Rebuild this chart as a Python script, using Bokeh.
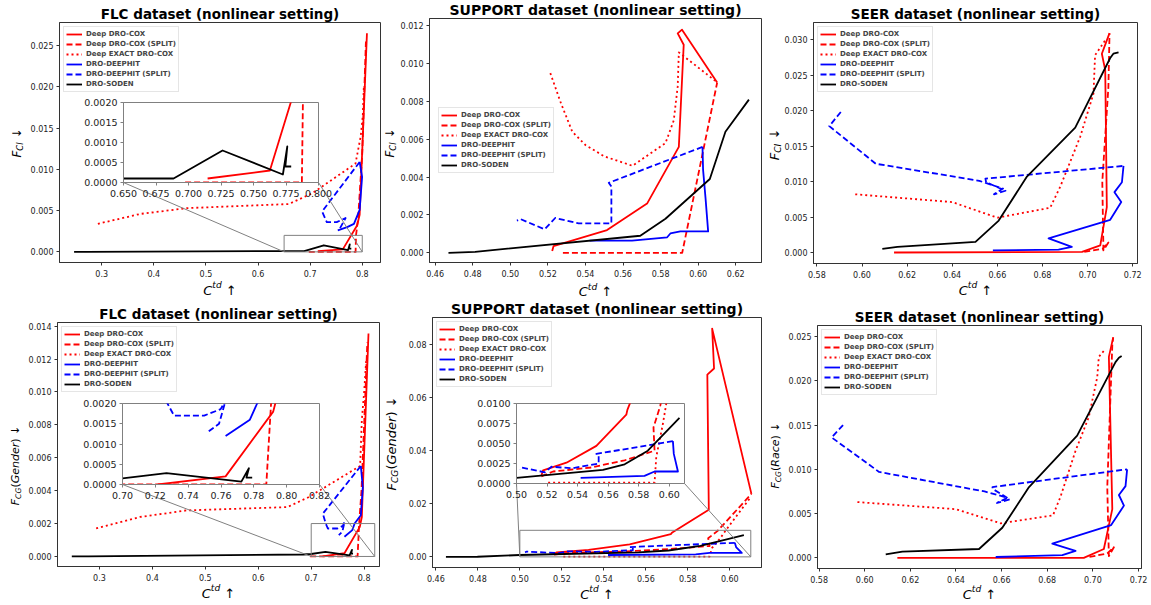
import numpy as np
from bokeh.plotting import figure
from bokeh.models import (Range1d, FixedTicker, PrintfTickFormatter, Legend,
                          LegendItem, GridBox)
from bokeh.core.properties import value
from bokeh.embed import file_html
from bokeh.resources import INLINE

# ---------------------------------------------------------------- series
NAMES = ["Deep DRO-COX", "Deep DRO-COX (SPLIT)", "Deep EXACT DRO-COX",
         "DRO-DEEPHIT", "DRO-DEEPHIT (SPLIT)", "DRO-SODEN"]

# ---- FLC, F_CI
FLC_CI_COX_X = [0.7147, 0.7626, 0.790, 0.795, 0.809]
FLC_CI_COX_Y = [0.0001, 0.0003, 0.0032, 0.0045, 0.0265]
FLC_CI_SPLIT_X = [0.6974, 0.7872, 0.788, 0.792, 0.800, 0.807]
FLC_CI_SPLIT_Y = [0.0, 0.0, 0.002, 0.004, 0.012, 0.0255]
FLC_CI_EXACT_X = [0.2926, 0.374, 0.4635, 0.659, 0.704, 0.787, 0.797, 0.801, 0.803]
FLC_CI_EXACT_Y = [0.0034, 0.0046, 0.0053, 0.0058, 0.0071, 0.0107, 0.0140, 0.0165, 0.0200]
FLC_CI_DH_X = [0.753, 0.771, 0.784, 0.795, 0.7997, 0.795]
FLC_CI_DH_Y = [0.0026, 0.0030, 0.0034, 0.0051, 0.0091, 0.0109]
FLC_CI_DHS_X = [0.795, 0.723, 0.732, 0.751, 0.768, 0.755]
FLC_CI_DHS_Y = [0.0109, 0.0049, 0.0036, 0.0036, 0.0041, 0.0026]
FLC_CI_SODEN_X = [0.247, 0.27, 0.65, 0.6885, 0.7262, 0.7726, 0.776, 0.7745, 0.779]
FLC_CI_SODEN_Y = [0.0, 0.0, 0.0001, 0.0001, 0.0008, 0.0002, 0.0009, 0.0004, 0.0004]

# ---- SUPPORT, F_CI
SUP_CI_COX_X = [0.5223, 0.523, 0.5515, 0.5728, 0.5897, 0.5923, 0.5891, 0.5914, 0.6101]
SUP_CI_COX_Y = [0.0001, 0.00035, 0.0012, 0.0026, 0.0056, 0.0110, 0.0116, 0.0118, 0.0090]
SUP_CI_SPLIT_X = [0.528, 0.5915, 0.6101]
SUP_CI_SPLIT_Y = [0.0, 0.0, 0.0090]
SUP_CI_EXACT_X = [0.5213, 0.527, 0.533, 0.540, 0.550, 0.565, 0.5826, 0.587, 0.5891, 0.5897, 0.609]
SUP_CI_EXACT_Y = [0.0095, 0.0079, 0.0064, 0.0057, 0.0051, 0.0046, 0.0058, 0.0070, 0.0088, 0.0106, 0.0091]
SUP_CI_DH_X = [0.5422, 0.5648, 0.5835, 0.5852, 0.5905, 0.6053, 0.6039, 0.6026, 0.6023]
SUP_CI_DH_Y = [0.00064, 0.00064, 0.00082, 0.00102, 0.00113, 0.00113, 0.0029, 0.0044, 0.0056]
SUP_CI_DHS_X = [0.6023, 0.5524, 0.5538, 0.5538, 0.5364, 0.5239, 0.5183, 0.5055, 0.5035]
SUP_CI_DHS_Y = [0.0056, 0.0037, 0.0035, 0.00155, 0.00155, 0.00184, 0.00124, 0.00178, 0.0017]
SUP_CI_SODEN_X = [0.4671, 0.4813, 0.5692, 0.5826, 0.6062, 0.6145, 0.627]
SUP_CI_SODEN_Y = [0.0, 0.00005, 0.0009, 0.0018, 0.0039, 0.0064, 0.0081]

# ---- SEER, F_CI
SEER_CI_COX_X = [0.6142, 0.6975, 0.7056, 0.7085, 0.7078, 0.7063, 0.7097]
SEER_CI_COX_Y = [0.0, 0.0001, 0.0010, 0.0064, 0.0257, 0.0280, 0.0309]
SEER_CI_SPLIT_X = [0.6985, 0.7065, 0.7092, 0.7070, 0.7065, 0.7092, 0.7097]
SEER_CI_SPLIT_Y = [0.0001, 0.0005, 0.0014, 0.0003, 0.0100, 0.0233, 0.0309]
SEER_CI_EXACT_X = [0.597, 0.640, 0.660, 0.6834, 0.6879, 0.6967, 0.7026, 0.7033, 0.7078]
SEER_CI_EXACT_Y = [0.0082, 0.0071, 0.0049, 0.0063, 0.0093, 0.0163, 0.0224, 0.0278, 0.0299]
SEER_CI_DH_X = [0.658, 0.6871, 0.693, 0.6827, 0.710, 0.7149, 0.7119, 0.7152, 0.7159]
SEER_CI_DH_Y = [0.0003, 0.0004, 0.0008, 0.0020, 0.0046, 0.0071, 0.0085, 0.0099, 0.0122]
SEER_CI_DHS_X = [0.5906, 0.5855, 0.6061, 0.6520, 0.6625, 0.6585, 0.6636, 0.6550, 0.6547, 0.7159]
SEER_CI_DHS_Y = [0.0198, 0.0178, 0.0125, 0.0101, 0.0090, 0.0082, 0.0087, 0.0099, 0.0104, 0.0122]
SEER_CI_SODEN_X = [0.609, 0.6157, 0.6503, 0.6606, 0.6731, 0.6945, 0.7100, 0.7114, 0.7137]
SEER_CI_SODEN_Y = [0.0005, 0.0008, 0.0015, 0.0045, 0.0107, 0.0176, 0.0274, 0.0280, 0.0282]

# ---- FLC, F_CG(Gender)
FLC_CG_COX_X = [0.7215, 0.7628, 0.7918, 0.7956, 0.8082]
FLC_CG_COX_Y = [0.0, 0.0002, 0.0018, 0.0024, 0.01355]
FLC_CG_SPLIT_X = [0.698, 0.7876, 0.7905, 0.795, 0.800, 0.806]
FLC_CG_SPLIT_Y = [0.0, 0.0, 0.002, 0.004, 0.008, 0.013]
FLC_CG_EXACT_X = [0.2937, 0.3768, 0.465, 0.6552, 0.6948, 0.7924, 0.7956, 0.800, 0.804]
FLC_CG_EXACT_Y = [0.0017, 0.0024, 0.0028, 0.0030, 0.0036, 0.0055, 0.0083, 0.0100, 0.0120]
FLC_CG_DH_X = [0.7628, 0.7776, 0.782, 0.7937, 0.7975, 0.7937]
FLC_CG_DH_Y = [0.0012, 0.0016, 0.0020, 0.0025, 0.0042, 0.0055]
FLC_CG_DHS_X = [0.7937, 0.7219, 0.7274, 0.7314, 0.7497, 0.7598, 0.763, 0.7588, 0.7521]
FLC_CG_DHS_Y = [0.0055, 0.0026, 0.0020, 0.0017, 0.0017, 0.00186, 0.0021, 0.0015, 0.0013]
FLC_CG_SODEN_X = [0.2477, 0.279, 0.685, 0.70, 0.7268, 0.7724, 0.777, 0.7755, 0.779]
FLC_CG_SODEN_Y = [0.0, 0.00001, 0.00012, 0.00015, 0.00028, 0.00007, 0.0004, 0.00017, 0.00017]

# ---- SUPPORT, F_CG(Gender)
SUP_CG_COX_X = [0.5163, 0.5174, 0.5327, 0.5523, 0.5719, 0.5726, 0.5900, 0.5893, 0.5925, 0.5916, 0.6103]
SUP_CG_COX_Y = [0.0010, 0.00165, 0.0026, 0.0047, 0.0086, 0.0092, 0.0177, 0.0686, 0.0709, 0.0859, 0.0237]
SUP_CG_SPLIT_X = [0.5163, 0.524, 0.549, 0.5708, 0.5904, 0.5897, 0.5941, 0.6103]
SUP_CG_SPLIT_Y = [0.0009, 0.0015, 0.0020, 0.0029, 0.0041, 0.0070, 0.0097, 0.0237]
SUP_CG_EXACT_X = [0.5207, 0.5904, 0.5915, 0.5958, 0.598, 0.6099]
SUP_CG_EXACT_Y = [0.0001, 0.0001, 0.0033, 0.0074, 0.0099, 0.0224]
SUP_CG_DH_X = [0.542, 0.5838, 0.5904, 0.6057, 0.603, 0.6024]
SUP_CG_DH_Y = [0.0007, 0.00095, 0.0015, 0.0015, 0.0037, 0.0053]
SUP_CG_DHS_X = [0.6024, 0.5523, 0.5538, 0.5538, 0.5364, 0.5229, 0.5185, 0.5033, 0.5025]
SUP_CG_DHS_Y = [0.0053, 0.0037, 0.0035, 0.0025, 0.0019, 0.0021, 0.0014, 0.0020, 0.0017]
SUP_CG_SODEN_X = [0.4648, 0.4798, 0.50, 0.5566, 0.5708, 0.586, 0.6067]
SUP_CG_SODEN_Y = [0.0, 0.00005, 0.0007, 0.0017, 0.0024, 0.0041, 0.0082]

# ---- SEER, F_CG(Race)
SEER_CG_COX_X = [0.6143, 0.696, 0.7048, 0.7085, 0.7070, 0.7089]
SEER_CG_COX_Y = [0.0, 0.0, 0.0010, 0.0055, 0.0227, 0.0249]
SEER_CG_SPLIT_X = [0.6985, 0.7063, 0.7092, 0.7070, 0.7063, 0.7085, 0.7089]
SEER_CG_SPLIT_Y = [0.0001, 0.0005, 0.0012, 0.0002, 0.0080, 0.0240, 0.0249]
SEER_CG_EXACT_X = [0.5968, 0.6399, 0.6596, 0.6825, 0.6858, 0.6924, 0.6982, 0.7019, 0.7026, 0.7055]
SEER_CG_EXACT_Y = [0.0063, 0.0055, 0.0039, 0.0048, 0.0069, 0.0121, 0.0159, 0.0204, 0.0227, 0.0236]
SEER_CG_DH_X = [0.6574, 0.6866, 0.6924, 0.6822, 0.7080, 0.7136, 0.7114, 0.7143, 0.7150]
SEER_CG_DH_Y = [0.0001, 0.0003, 0.0008, 0.0016, 0.0037, 0.0059, 0.0071, 0.0081, 0.0100]
SEER_CG_DHS_X = [0.5905, 0.5855, 0.6063, 0.6525, 0.6625, 0.6580, 0.6636, 0.6560, 0.6560, 0.7150]
SEER_CG_DHS_Y = [0.0150, 0.0136, 0.0097, 0.0075, 0.0068, 0.0062, 0.0066, 0.0078, 0.0080, 0.0100]
SEER_CG_SODEN_X = [0.6092, 0.6165, 0.6501, 0.6603, 0.6720, 0.6931, 0.7099, 0.7114, 0.7126]
SEER_CG_SODEN_Y = [0.0004, 0.0007, 0.0010, 0.0034, 0.0080, 0.0138, 0.0221, 0.0226, 0.0228]

# ---------------------------------------------------------------- ticks
FLC_X_TICKS = [0.3, 0.4, 0.5, 0.6, 0.7, 0.8]
SUP_CI_X_TICKS = [0.46, 0.48, 0.50, 0.52, 0.54, 0.56, 0.58, 0.60, 0.62]
SUP_CG_X_TICKS = [0.46, 0.48, 0.50, 0.52, 0.54, 0.56, 0.58, 0.60]
SEER_X_TICKS = [0.58, 0.60, 0.62, 0.64, 0.66, 0.68, 0.70, 0.72]
FLC_CI_Y_TICKS = [0.0, 0.005, 0.010, 0.015, 0.020, 0.025]
SUP_CI_Y_TICKS = [0.0, 0.002, 0.004, 0.006, 0.008, 0.010, 0.012]
SEER_CI_Y_TICKS = [0.0, 0.005, 0.010, 0.015, 0.020, 0.025, 0.030]
FLC_CG_Y_TICKS = [0.0, 0.002, 0.004, 0.006, 0.008, 0.010, 0.012, 0.014]
SUP_CG_Y_TICKS = [0.0, 0.02, 0.04, 0.06, 0.08]
SEER_CG_Y_TICKS = [0.0, 0.005, 0.010, 0.015, 0.020, 0.025]

FLC_CI_INSET_X_TICKS = [0.65, 0.675, 0.70, 0.725, 0.75, 0.775, 0.80]
FLC_CI_INSET_Y_TICKS = [0.0, 0.0005, 0.0010, 0.0015, 0.0020]
FLC_CG_INSET_X_TICKS = [0.70, 0.72, 0.74, 0.76, 0.78, 0.80, 0.82]
FLC_CG_INSET_Y_TICKS = [0.0, 0.0005, 0.0010, 0.0015, 0.0020]
SUP_CG_INSET_X_TICKS = [0.50, 0.52, 0.54, 0.56, 0.58, 0.60]
SUP_CG_INSET_Y_TICKS = [0.0, 0.0025, 0.0050, 0.0075, 0.0100]

TITLES = ["FLC dataset (nonlinear setting)", "SUPPORT dataset (nonlinear setting)",
          "SEER dataset (nonlinear setting)", "FLC dataset (nonlinear setting)",
          "SUPPORT dataset (nonlinear setting)", "SEER dataset (nonlinear setting)"]

# ---------------------------------------------------------------- styles / layout
FONT = "DejaVu Sans"
COLORS = ["red", "red", "red", "blue", "blue", "black"]
DASHES = ["solid", "6 3", "2 3", "solid", "6 3", "solid"]
LW = 1.8
FRAME_COLOR = "#333333"
INSET_COLOR = "#808080"
TICK_LABEL_COLOR = "#222222"
OVERLAY_BOX = (2, 1, 1149, 604)   # x, y, w, h in page pixels (unique grid lines)
BASELINE_FIX = 0.3                # em; the renderer sits text this much below the anchor

EM = {"F": 0.575, "C": 0.698, "I": 0.295, "G": 0.775, "R": 0.695, "t": 0.392,
      "d": 0.635, "e": 0.615, "n": 0.634, "r": 0.411, "a": 0.613, "c": 0.550,
      "(": 0.390, ")": 0.390, " ": 0.318, "↓": 0.838, "↑": 0.838}


def text_w(s, size):
    return sum(EM.get(ch, 0.6) for ch in s) * size


def ylabel_pieces(kind, s):
    out = [("F", s, "italic", 0.0)]
    if kind == "CI":
        out.append(("CI", 0.7 * s, "italic", -0.18 * s))
    else:
        out.append(("CG", 0.7 * s, "italic", -0.18 * s))
        out += [("(", s, "normal", 0.0), (kind, s, "italic", 0.0), (")", s, "normal", 0.0)]
    out += [(" ", s, "normal", 0.0), ("↓", s, "normal", 0.0)]
    return out


def xlabel_pieces(s):
    return [("C", s, "italic", 0.0), ("td", 0.7 * s, "italic", 0.45 * s),
            (" ", s, "normal", 0.0), ("↑", s, "normal", 0.0)]


TEXTS = []  # (x, y, text, size, style, angle, align) in page pixels


def place_pieces(pieces, center, base, vertical):
    total = sum(text_w(t, sz) for t, sz, _, _ in pieces)
    pos = 0.0
    for t, sz, style, raise_ in pieces:
        if t.strip():
            r = raise_ + BASELINE_FIX * sz
            if vertical:
                TEXTS.append((base - r, center + total / 2.0 - pos, t, sz, style, np.pi / 2, "left"))
            else:
                TEXTS.append((center - total / 2.0 + pos, base - r, t, sz, style, 0.0, "left"))
        pos += text_w(t, sz)


def style_axis(ax, ticks, fmt, size, color, standoff):
    ax.ticker = FixedTicker(ticks=ticks)
    ax.formatter = PrintfTickFormatter(format=fmt)
    ax.major_label_text_font = FONT
    ax.major_label_text_font_size = size
    ax.major_label_text_color = TICK_LABEL_COLOR
    ax.major_tick_in = 0
    ax.major_tick_out = 3
    ax.minor_tick_in = 0
    ax.minor_tick_out = 0
    ax.axis_line_color = color
    ax.major_tick_line_color = color
    ax.major_label_standoff = standoff


def base_fig(box, frame, xr, yr, **kw):
    x, y, w, h = box
    fx0, fy0, fx1, fy1 = frame
    p = figure(width=w, height=h, x_range=Range1d(*xr), y_range=Range1d(*yr),
               output_backend="svg", toolbar_location=None, tools="", title=None,
               min_border_left=fx0 - x, min_border_right=x + w - fx1,
               min_border_top=fy0 - y, min_border_bottom=y + h - fy1, **kw)
    p.xgrid.visible = False
    p.ygrid.visible = False
    return p


def draw_series(p, series):
    rs = []
    for (xs, ys), col, dash in zip(series, COLORS, DASHES):
        rs.append(p.line(xs, ys, line_color=col, line_width=LW, line_dash=dash,
                         line_join="round"))
    return rs


def to_data(px, py, frame, xr, yr):
    fx0, fy0, fx1, fy1 = frame
    return (xr[0] + (px - fx0) / (fx1 - fx0) * (xr[1] - xr[0]),
            yr[0] + (fy1 - py) / (fy1 - fy0) * (yr[1] - yr[0]))


# boxes are chosen so that no two plots share a grid line with different borders
PANELS = [
    dict(box=(0, 0, 382, 300), frame=(59, 22, 380, 262), xr=(0.219, 0.835), yr=(-0.00129, 0.02781),
         xt=FLC_X_TICKS, yt=FLC_CI_Y_TICKS, xf="%.1f", yf="%.3f",
         tsize=13.5, ykind="CI", ysize=12, ybase=20, ycen=142.5, xbase=293.5, leg="top_left", legm=4,
         series=[(FLC_CI_COX_X, FLC_CI_COX_Y), (FLC_CI_SPLIT_X, FLC_CI_SPLIT_Y), (FLC_CI_EXACT_X, FLC_CI_EXACT_Y),
                 (FLC_CI_DH_X, FLC_CI_DH_Y), (FLC_CI_DHS_X, FLC_CI_DHS_Y), (FLC_CI_SODEN_X, FLC_CI_SODEN_Y)],
         inset=dict(box=(81, 96, 253, 108), frame=(123, 102, 318, 182), xr=(0.65, 0.80), yr=(0.0, 0.002),
                    xt=FLC_CI_INSET_X_TICKS, yt=FLC_CI_INSET_Y_TICKS, xf="%.3f", yf="%.4f")),
    dict(box=(382, 2, 383, 298), frame=(429, 18, 761, 262), xr=(0.457, 0.6337), yr=(-0.000514, 0.01239),
         xt=SUP_CI_X_TICKS, yt=SUP_CI_Y_TICKS, xf="%.2f", yf="%.3f",
         tsize=14, ykind="CI", ysize=12, ybase=393, ycen=142.5, xbase=295, leg="center_left", legm=9,
         series=[(SUP_CI_COX_X, SUP_CI_COX_Y), (SUP_CI_SPLIT_X, SUP_CI_SPLIT_Y), (SUP_CI_EXACT_X, SUP_CI_EXACT_Y),
                 (SUP_CI_DH_X, SUP_CI_DH_Y), (SUP_CI_DHS_X, SUP_CI_DHS_Y), (SUP_CI_SODEN_X, SUP_CI_SODEN_Y)],
         inset=None),
    dict(box=(765, 0, 384, 299), frame=(813, 22, 1137, 263), xr=(0.5785, 0.7221), yr=(-0.00155, 0.0324),
         xt=SEER_X_TICKS, yt=SEER_CI_Y_TICKS, xf="%.2f", yf="%.3f",
         tsize=13.5, ykind="CI", ysize=13, ybase=778, ycen=144, xbase=293.5, leg="top_left", legm=4,
         series=[(SEER_CI_COX_X, SEER_CI_COX_Y), (SEER_CI_SPLIT_X, SEER_CI_SPLIT_Y), (SEER_CI_EXACT_X, SEER_CI_EXACT_Y),
                 (SEER_CI_DH_X, SEER_CI_DH_Y), (SEER_CI_DHS_X, SEER_CI_DHS_Y), (SEER_CI_SODEN_X, SEER_CI_SODEN_Y)],
         inset=None),
    dict(box=(1, 300, 380, 304), frame=(57, 322, 379, 566), xr=(0.2207, 0.829), yr=(-0.00061, 0.01422),
         xt=FLC_X_TICKS, yt=FLC_CG_Y_TICKS, xf="%.1f", yf="%.3f",
         tsize=13.5, ykind="Gender", ysize=11, ybase=18, ycen=465, xbase=596.5, leg="top_left", legm=4,
         series=[(FLC_CG_COX_X, FLC_CG_COX_Y), (FLC_CG_SPLIT_X, FLC_CG_SPLIT_Y), (FLC_CG_EXACT_X, FLC_CG_EXACT_Y),
                 (FLC_CG_DH_X, FLC_CG_DH_Y), (FLC_CG_DHS_X, FLC_CG_DHS_Y), (FLC_CG_SODEN_X, FLC_CG_SODEN_Y)],
         inset=dict(box=(80, 397, 255, 109), frame=(122, 403, 319, 484), xr=(0.70, 0.82), yr=(0.0, 0.002),
                    xt=FLC_CG_INSET_X_TICKS, yt=FLC_CG_INSET_Y_TICKS, xf="%.2f", yf="%.4f")),
    dict(box=(383, 301, 382, 302), frame=(432, 317, 761, 567), xr=(0.4584, 0.6151), yr=(-0.004, 0.0901),
         xt=SUP_CG_X_TICKS, yt=SUP_CG_Y_TICKS, xf="%.2f", yf="%.2f",
         tsize=14, ykind="Gender", ysize=13, ybase=395, ycen=443, xbase=597.5, leg="top_left", legm=4,
         series=[(SUP_CG_COX_X, SUP_CG_COX_Y), (SUP_CG_SPLIT_X, SUP_CG_SPLIT_Y), (SUP_CG_EXACT_X, SUP_CG_EXACT_Y),
                 (SUP_CG_DH_X, SUP_CG_DH_Y), (SUP_CG_DHS_X, SUP_CG_DHS_Y), (SUP_CG_SODEN_X, SUP_CG_SODEN_Y)],
         inset=dict(box=(474, 397, 226, 108), frame=(516, 403, 684, 483), xr=(0.50, 0.61), yr=(0.0, 0.01),
                    xt=SUP_CG_INSET_X_TICKS, yt=SUP_CG_INSET_Y_TICKS, xf="%.2f", yf="%.4f")),
    dict(box=(766, 302, 384, 300), frame=(817, 325, 1141, 568), xr=(0.5793, 0.7213), yr=(-0.0012, 0.02624),
         xt=SEER_X_TICKS, yt=SEER_CG_Y_TICKS, xf="%.2f", yf="%.3f",
         tsize=13.5, ykind="Race", ysize=11, ybase=778, ycen=455, xbase=597.5, leg="top_left", legm=4,
         series=[(SEER_CG_COX_X, SEER_CG_COX_Y), (SEER_CG_SPLIT_X, SEER_CG_SPLIT_Y), (SEER_CG_EXACT_X, SEER_CG_EXACT_Y),
                 (SEER_CG_DH_X, SEER_CG_DH_Y), (SEER_CG_DHS_X, SEER_CG_DHS_Y), (SEER_CG_SODEN_X, SEER_CG_SODEN_Y)],
         inset=None),
]

items = []
inset_items = []
for cfg, title in zip(PANELS, TITLES):
    p = base_fig(cfg["box"], cfg["frame"], cfg["xr"], cfg["yr"])
    p.background_fill_color = "white"
    p.border_fill_color = "white"
    p.outline_line_color = FRAME_COLOR
    p.outline_line_width = 1
    style_axis(p.xaxis[0], cfg["xt"], cfg["xf"], "8px", FRAME_COLOR, 4)
    style_axis(p.yaxis[0], cfg["yt"], cfg["yf"], "8px", FRAME_COLOR, 3)
    rs = draw_series(p, cfg["series"])

    ins = cfg["inset"]
    if ins is not None:
        ix0, ix1 = ins["xr"]
        iy0, iy1 = ins["yr"]
        p.quad(left=[ix0], right=[ix1], bottom=[iy0], top=[iy1], fill_color=None,
               line_color=INSET_COLOR, line_width=1)
        fx0, fy0, fx1, fy1 = ins["frame"]
        ll = to_data(fx0, fy1, cfg["frame"], cfg["xr"], cfg["yr"])
        lr = to_data(fx1, fy1, cfg["frame"], cfg["xr"], cfg["yr"])
        p.line([ll[0], ix0], [ll[1], iy0], line_color=INSET_COLOR, line_width=1)
        p.line([lr[0], ix1], [lr[1], iy0], line_color=INSET_COLOR, line_width=1)

    leg = Legend(items=[LegendItem(label=value(n), renderers=[r]) for n, r in zip(NAMES, rs)],
                 location=cfg["leg"], margin=cfg["legm"], padding=2, spacing=0,
                 label_height=10, glyph_height=10, glyph_width=16, label_standoff=4,
                 label_text_font=FONT, label_text_font_size="7px", label_text_font_style="bold",
                 border_line_color="#cccccc", border_line_width=1,
                 background_fill_color="white", background_fill_alpha=0.8)
    p.add_layout(leg)
    items.append((p, cfg["box"]))

    fx0, fy0, fx1, fy1 = cfg["frame"]
    TEXTS.append(((fx0 + fx1) / 2.0, fy0 - 4.5 - BASELINE_FIX * cfg["tsize"], title,
                  cfg["tsize"], "bold", 0.0, "center"))
    place_pieces(ylabel_pieces(cfg["ykind"], cfg["ysize"]), cfg["ycen"], cfg["ybase"], True)
    place_pieces(xlabel_pieces(13), (fx0 + fx1) / 2.0, cfg["xbase"], False)

    if ins is not None:
        q = base_fig(ins["box"], ins["frame"], ins["xr"], ins["yr"])
        q.background_fill_color = "white"
        q.border_fill_color = None
        q.outline_line_color = INSET_COLOR
        q.outline_line_width = 1
        style_axis(q.xaxis[0], ins["xt"], ins["xf"], "9.5px", INSET_COLOR, 4)
        style_axis(q.yaxis[0], ins["yt"], ins["yf"], "9.5px", INSET_COLOR, 3)
        draw_series(q, cfg["series"])
        inset_items.append((q, ins["box"]))

items += inset_items

# transparent overlay carrying titles and axis labels, in page pixels
ox, oy, ow, oh = OVERLAY_BOX
ov = figure(width=ow, height=oh, x_range=Range1d(ox, ox + ow), y_range=Range1d(0, oh),
            output_backend="svg", toolbar_location=None, tools="", title=None,
            x_axis_location=None, y_axis_location=None,
            min_border_left=0, min_border_right=0, min_border_top=0, min_border_bottom=0)
ov.xgrid.visible = False
ov.ygrid.visible = False
ov.outline_line_color = None
ov.background_fill_color = None
ov.border_fill_color = None
for (tx, ty, t, sz, style, ang, align) in TEXTS:
    ov.text(x=[tx], y=[oy + oh - ty], text=[t], angle=ang, text_font=value(FONT),
            text_font_size=value(f"{sz:.1f}px"), text_font_style=style,
            text_align=align, text_baseline="alphabetic", text_color="black")
items.append((ov, OVERLAY_BOX))

xs = sorted({b[0] for _, b in items} | {b[0] + b[2] for _, b in items})
ys = sorted({b[1] for _, b in items} | {b[1] + b[3] for _, b in items})
children = []
for fig, (x, y, w, h) in items:
    c0, c1 = xs.index(x), xs.index(x + w)
    r0, r1 = ys.index(y), ys.index(y + h)
    children.append((fig, r0, c0, r1 - r0, c1 - c0))

grid = GridBox(children=children,
               rows=[f"{ys[i + 1] - ys[i]}px" for i in range(len(ys) - 1)],
               cols=[f"{xs[i + 1] - xs[i]}px" for i in range(len(xs) - 1)],
               spacing=0)

open("out.html", "w").write(file_html(grid, INLINE))
